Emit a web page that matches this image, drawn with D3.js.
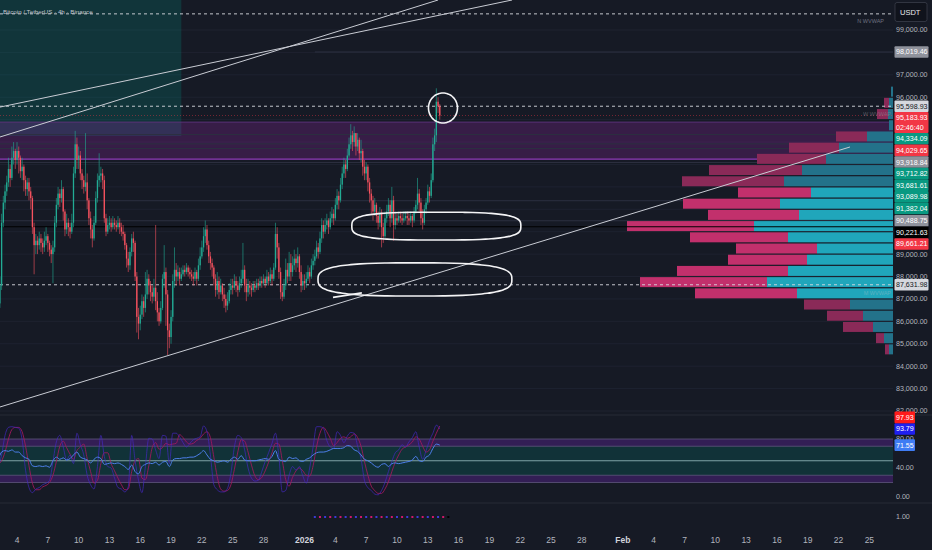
<!DOCTYPE html>
<html><head><meta charset="utf-8">
<script src="https://cdn.jsdelivr.net/npm/d3@7/dist/d3.min.js"></script>
<style>
html,body{margin:0;padding:0;background:#161a25;overflow:hidden;}
svg{display:block;}
</style></head><body>
<svg id="chart" width="932" height="550"></svg>
<script>
// ---------------- DATA ----------------
const candleStart = "2025-12-02T00:00:00Z";   // 4h candles
const firstOpen = 86.3;                        // thousand USDT
const closes = [
86.5,86.8,87.6,90.4,91.3,91.8, 92.2,92.8,92.4,93.3,93.6,93.2, 93.6,93.3,92.7,92.9,92.3,91.9,
92.2,91.8,91.5,90.2,89.4,89.6, 89.4,89.7,89.5,89.3,89.6,89.8, 89.5,89.2,89.0,89.3,90.4,91.2,
91.7,91.5,91.9,90.9,90.1,90.4, 90.2,90.0,90.4,92.6,93.9,93.2, 93.4,92.6,92.3,92.0,92.2,91.4,
90.6,90.1,89.7,90.4,91.5,92.3, 92.5,92.6,92.3,90.6,90.0,90.3, 90.4,90.2,90.4,90.3,90.2,90.4,
90.2,90.0,89.9,89.4,88.8,88.5, 89.1,89.7,89.5,88.0,86.2,85.9, 86.3,86.9,86.6,87.2,87.9,87.6,
87.3,87.1,87.5,86.9,86.4,86.0, 86.6,87.9,88.2,87.2,85.6,85.3, 86.2,87.8,88.3,88.0,88.2,87.9,
88.1,88.3,88.2,88.4,88.2,88.1, 88.0,87.9,88.2,87.9,88.5,88.9, 89.3,89.8,90.1,89.4,88.9,88.6,
88.4,87.9,87.4,87.8,87.3,87.6, 87.2,87.0,86.7,86.9,87.4,87.6, 87.5,87.8,87.6,87.4,87.7,87.9,
88.3,87.6,87.3,87.6,87.5,87.4, 87.6,87.5,87.7,87.6,87.8,87.7, 87.9,87.7,88.0,87.8,88.1,87.9,
88.4,89.9,89.3,88.2,87.3,87.1, 87.6,88.3,88.0,88.6,88.2,88.5, 88.8,88.6,88.9,88.2,87.6,87.8,
87.7,87.9,88.2,88.0,88.5,88.7, 88.9,89.3,89.1,89.7,90.3,90.0, 90.3,90.5,90.2,90.6,90.8,90.6,
91.2,91.6,91.4,92.1,92.6,93.0, 92.8,93.4,93.9,94.3,94.0,94.4, 93.8,94.1,93.5,93.6,92.9,92.6,
92.9,92.2,91.7,91.4,90.9,91.2, 90.7,90.4,90.8,90.2,89.8,90.6, 90.9,91.2,90.6,91.4,90.3,90.6,
90.5,90.7,90.6,90.5,90.6,90.7, 90.6,90.5,90.7,90.5,90.9,91.2, 91.7,91.3,90.6,90.4,91.0,91.3,
91.8,91.6,92.3,93.9,94.3,95.8, 95.6,95.18393];
const highs = [
86.9,87.1,88.0,90.8,91.6,92.1, 92.5,93.3,93.0,93.8,94.0,93.7, 94.0,93.8,93.4,93.3,93.0,92.5,
92.4,92.4,92.0,91.6,90.4,89.9, 89.8,90.0,89.9,89.7,90.0,90.2, 89.9,89.6,89.4,89.6,90.7,91.5,
92.0,91.9,92.3,92.0,91.0,90.8, 90.6,90.4,90.8,92.9,94.5,94.2, 93.8,93.6,92.8,92.5,94.4,92.6,
91.5,90.9,90.3,90.7,91.8,92.6, 93.5,92.9,92.8,92.5,90.8,90.6, 90.7,90.6,90.7,90.6,90.5,90.7,
90.6,90.4,90.3,90.0,89.5,89.1, 89.3,89.9,90.0,89.6,88.2,86.6, 86.7,87.2,87.1,88.2,88.3,88.1,
87.8,87.6,87.9,90.3,87.3,86.6, 86.9,88.1,89.4,88.4,87.4,85.9, 86.5,88.1,89.3,88.6,88.5,88.4,
88.4,88.5,88.5,88.6,88.5,88.4, 88.3,88.2,88.4,88.3,88.8,89.3, 89.6,90.2,90.5,90.3,89.6,89.1,
88.8,88.5,88.1,88.2,88.0,87.9, 87.7,87.5,87.2,87.3,87.7,87.9, 87.9,88.1,88.0,87.8,88.0,88.3,
89.5,88.5,87.9,87.9,87.8,87.7, 87.8,87.8,87.9,87.9,88.0,88.0, 88.1,88.0,88.3,88.2,88.4,88.3,
88.6,90.4,90.2,89.5,88.4,87.6, 87.9,88.8,88.6,89.1,89.0,88.9, 89.2,89.0,89.3,89.0,88.5,88.1,
88.1,88.2,88.5,88.4,88.8,89.0, 89.2,89.6,89.5,90.0,90.6,90.5, 90.6,90.8,90.6,90.9,91.1,91.0,
91.5,91.9,91.8,92.4,92.9,93.3, 93.2,93.7,94.2,94.8,94.5,94.7, 94.4,94.4,94.2,94.1,93.7,93.2,
93.1,93.0,92.4,91.9,91.6,91.5, 91.3,90.9,91.1,91.0,90.4,90.9, 91.2,91.5,91.4,92.0,91.6,90.9,
90.8,90.9,90.9,90.8,90.9,90.9, 90.9,90.8,90.9,90.8,91.1,91.4, 92.4,91.9,91.5,91.0,91.2,91.5,
92.1,92.0,92.6,94.2,94.6,96.4, 96.0,95.7];
const lows = [
86.0,86.3,86.6,87.4,90.2,91.0, 91.6,92.0,92.0,92.3,93.0,92.8, 93.0,92.6,92.4,92.3,91.8,91.6,
91.6,91.4,91.0,89.9,88.1,89.0, 89.0,89.2,89.1,89.0,89.1,89.4, 89.1,88.9,88.6,87.7,89.1,90.2,
91.0,91.1,91.3,90.5,89.8,89.9, 89.8,89.7,89.9,90.2,92.4,92.8, 92.8,92.3,91.9,91.7,91.8,91.0,
90.3,89.7,89.3,89.6,90.3,91.3, 92.0,92.2,91.9,90.4,89.8,89.9, 90.1,90.0,90.1,90.1,90.0,90.1,
89.9,89.8,89.6,89.2,88.4,88.2, 88.3,88.9,89.1,87.8,85.5,85.2, 85.6,86.1,86.2,86.4,87.0,87.2,
86.9,86.8,86.9,86.5,86.0,85.8, 85.9,86.5,87.5,85.8,84.5,84.8, 85.0,86.0,87.5,87.6,87.8,87.6,
87.8,88.0,88.0,88.1,88.0,87.9, 87.8,87.6,87.8,87.6,87.8,88.3, 88.8,89.1,89.5,89.2,88.6,88.3,
88.0,87.6,87.1,87.2,87.0,87.2, 86.9,86.6,86.4,86.5,86.8,87.2, 87.2,87.4,87.3,87.1,87.3,87.5,
87.7,87.3,86.9,87.1,87.2,87.1, 87.3,87.3,87.4,87.4,87.5,87.5, 87.6,87.5,87.6,87.6,87.7,87.6,
87.8,88.3,88.8,87.9,87.0,86.9, 87.0,87.4,87.7,87.8,87.8,88.0, 88.3,88.2,88.4,87.9,87.3,87.4,
87.4,87.5,87.8,87.7,87.9,88.3, 88.5,88.8,88.8,89.0,89.5,89.7, 89.9,90.1,89.9,90.1,90.4,90.3,
90.5,91.0,91.0,91.3,91.9,92.4, 92.4,92.7,93.3,93.7,93.6,93.8, 93.4,93.6,93.2,93.1,92.5,92.3,
92.3,91.8,91.3,90.8,90.5,90.7, 90.4,90.1,90.2,89.3,89.5,89.7, 90.4,90.7,90.2,90.4,89.6,90.1,
90.3,90.4,90.4,90.3,90.4,90.5, 90.3,90.3,90.4,90.2,90.4,90.8, 91.0,90.9,90.3,90.1,90.3,90.8,
91.2,91.3,91.5,92.2,93.6,94.0, 95.3,95.0];

// RSI pane (one value every 8h, on the 2nd candle of each pair)
const rsiValues = [
51,62,64,63,65,62,62,57,54,52, 43,42,43,42,43,41,50,55,52,54, 51,53,58,62,55,53,51,47,52,55,
53,45,46,47,46,47,45,42,38,44, 35,32,42,45,47,46,48,44,48,49, 42,51,53,53,54,54,55,55,57,60,
64,58,52,50,48,49,50,48,52,55, 52,57,51,50,50,50,51,52,53,52, 56,64,52,50,49,55,53,54,50,49,
52,54,58,61,62,62,63,65,67,67, 67,68,71,70,65,63,58,52,50,47, 43,41,45,46,42,46,47,46,47,48,
49,51,56,50,49,55,58,67,73,71.55];
const stochK = [
42,58,85,96,97,96,95,79,37,13, 6,11,13,17,19,23,49,76,85,69, 51,58,46,88,72,58,30,17,11,42,
85,56,42,40,26,13,11,7,14,85, 50,23,6,42,81,80,65,53,85,84, 46,88,88,83,75,69,74,79,81,83,
98,90,58,17,10,7,7,12,33,69, 85,82,65,40,26,22,23,35,49,61, 74,88,56,7,9,30,42,37,42,29,
19,40,69,97,97,95,78,69,67,90, 85,75,84,89,88,70,53,23,13,9, 4,3,9,20,35,49,61,65,72,69,
76,82,90,69,52,64,78,88,99,93.79];
const stochD = [
45,50,62,80,93,96,96,90,70,43, 19,10,10,14,16,20,30,49,70,77, 68,59,52,64,69,73,53,35,19,23,
46,61,61,46,36,26,17,10,11,35, 50,53,26,24,43,68,75,66,68,74, 72,73,74,86,82,76,73,74,78,81,
87,90,82,55,28,11,8,9,17,38, 62,79,77,62,44,29,24,27,36,48, 61,74,73,50,24,15,27,36,40,36,
30,29,43,69,88,96,90,81,71,75, 81,83,81,83,87,82,70,49,30,15, 9,5,5,11,21,35,48,58,66,69,
72,76,83,80,70,62,65,77,88,97.93];
const rsiBands = [80, 70, 50, 30, 20];

// Volume profile (500 USDT rows)
const vpLow  = [96,95.5,95,94.5,94,93.5,93,92.5,92,91.5,91,90.5,90,89.5,89,88.5,88,87.5,87,86.5,86,85.5,85,84.5];
const vpBuy  = [2,4,5,4,26,54,67,91,109,82,113,94,139,105,76,86,105,126,96,43,30,20,9,4];
const vpSell = [0,5,11,0,31,50,69,93,102,73,97,91,127,98,81,79,111,127,102,46,36,30,8,4];
const valueArea = [87, 92];

// Zones, levels, drawings
const tealZone   = {t0:"2025-11-20T00:00:00Z", t1:"2025-12-20T00:00:00Z", p0:94.27, p1:101};
const purpleZone = {t0:"2025-11-20T00:00:00Z", t1:"2026-03-15T00:00:00Z", p0:93.24, p1:94.89};
const dashedLevels = [99.72, 95.59893, 87.63198];
const blackLevel = 90.22163;
const faintLevels = [98.01946, 94.33409, 93.91884, 93.71282, 93.08998, 91.38204, 90.48875];
const lastPrice = 95.18393;
const trendLines = [
  [["2025-12-02T08:00:00Z", 94.225], ["2026-01-14T00:00:00Z", 100.339]],
  [["2025-12-02T08:00:00Z", 95.56],  ["2026-01-21T05:00:00Z", 100.339]],
  [["2025-12-02T08:00:00Z", 82.178], ["2026-02-23T02:40:00Z", 93.78]]
];
const annoCenter = [["2026-01-14T11:30:00Z", 95.52], ["2026-01-13T20:00:00Z", 90.25], ["2026-01-11T18:00:00Z", 87.87]];
const annoHalfDays = [1.41, 8.23, 9.44];
const annoHalfPrice = [0.67, 0.62, 0.74];
const annoShape = [2, 3.2, 3];
const annoTail = [["2026-01-03T18:30:00Z", 87.07], ["2026-01-06T14:00:00Z", 87.27]];

// Axis labels / tags
const priceTicks = d3.range(82, 100, 1);
const rsiTicks = [0, 40, 80];
const timeTicks = ["2025-12-04","2025-12-07","2025-12-10","2025-12-13","2025-12-16","2025-12-19","2025-12-22",
  "2025-12-25","2025-12-28","2026-01-01","2026-01-04","2026-01-07","2026-01-10","2026-01-13","2026-01-16",
  "2026-01-19","2026-01-22","2026-01-25","2026-01-28","2026-02-01","2026-02-04","2026-02-07","2026-02-10",
  "2026-02-13","2026-02-16","2026-02-19","2026-02-22","2026-02-25"];
const tagPrices = [98019.46,95598.93,95183.93,94334.09,94029.65,93918.84,93712.82,93681.61,93089.98,91382.04,90488.75,90221.63,89661.21,87631.98];
const tagKinds  = ["grey","light","last","green","red","grey","green","green","green","green","grey","black","red","light"];
const countdown = "02:46:40";
const rsiTagValues = [97.93, 93.79, 71.55];
const rsiTagKinds = ["d","k","rsi"];
const signalStart = "2026-01-02T00:00:00Z";
const signalDots = [1,-1,1,-1,1,-1,1,-1,1,-1,1,-1,1,-1,1,-1,1,-1,1,-1,1,-1,1,-1,1,-1,0];

// ---------------- DRAW ----------------
const svg = d3.select("#chart");
const AX = 893;               // right axis start
const FONT = "'Liberation Sans',Arial,Roboto,sans-serif";
const BG = "#161a25";
const H4 = 4*3600*1000;

const x = d3.scaleUtc()
  .domain([new Date("2025-12-01T00:00:00Z"), new Date("2026-02-01T00:00:00Z")])
  .range([-13.8, 622.9]);
const y = d3.scaleLinear().domain([82, 99]).range([411, 30]);
const yR = d3.scaleLinear().domain([0, 80]).range([497, 439]);
const vpW = d3.scaleLinear().domain([0, 100]).range([0, 100]);

svg.append("rect").attr("width", 932).attr("height", 550).attr("fill", BG);

const defs = svg.append("defs");
defs.append("clipPath").attr("id","cp").append("rect").attr("x",0).attr("y",0).attr("width",AX).attr("height",414);
defs.append("clipPath").attr("id","cr").append("rect").attr("x",0).attr("y",416).attr("width",AX).attr("height",86);

const pane = svg.append("g").attr("clip-path","url(#cp)");

// grid
pane.selectAll("line.grid").data(priceTicks).join("line")
  .attr("x1",0).attr("x2",AX).attr("y1",d=>y(d)).attr("y2",d=>y(d))
  .attr("stroke","#1e2230").attr("stroke-width",1);

// zones
const t = s => new Date(s);
pane.append("rect")
  .attr("x", x(t(tealZone.t0))).attr("width", x(t(tealZone.t1)) - x(t(tealZone.t0)))
  .attr("y", y(tealZone.p1)).attr("height", y(tealZone.p0) - y(tealZone.p1))
  .attr("fill","rgba(0,150,136,0.22)");
pane.append("rect")
  .attr("x", x(t(purpleZone.t0))).attr("width", x(t(purpleZone.t1)) - x(t(purpleZone.t0)))
  .attr("y", y(purpleZone.p1)).attr("height", y(purpleZone.p0) - y(purpleZone.p1))
  .attr("fill","rgba(156,39,176,0.25)");
pane.append("line").attr("x1",0).attr("x2",AX).attr("y1",y(purpleZone.p0)).attr("y2",y(purpleZone.p0))
  .attr("stroke","#8e3bb8").attr("stroke-width",1.2);
pane.append("line").attr("x1",0).attr("x2",AX).attr("y1",y(purpleZone.p1)).attr("y2",y(purpleZone.p1))
  .attr("stroke","#5a3278").attr("stroke-width",1);

// faint levels
pane.selectAll("line.faint").data(faintLevels).join("line")
  .attr("x1",(d,i)=> i===0 ? x(t("2026-01-02T00:00:00Z")) : 0).attr("x2",AX)
  .attr("y1",d=>y(d)).attr("y2",d=>y(d))
  .attr("stroke","#2c3040").attr("stroke-width",1);

// volume profile
const vp = pane.append("g");
vpLow.forEach((lo,i)=>{
  const yTop = y(lo + 0.5), yBot = y(lo);
  const inVA = lo >= valueArea[0] && lo < valueArea[1];
  const hgt = yBot - yTop - 1.2;
  vp.append("rect").attr("x", AX - vpW(vpBuy[i] + vpSell[i])).attr("width", vpW(vpSell[i]))
    .attr("y", yTop + 0.6).attr("height", hgt).attr("fill", inVA ? "#c2306c" : "#8a2a58");
  vp.append("rect").attr("x", AX - vpW(vpBuy[i])).attr("width", vpW(vpBuy[i]))
    .attr("y", yTop + 0.6).attr("height", hgt).attr("fill", inVA ? "#20a6bb" : "#23728a");
});

// dashed + black levels
pane.selectAll("line.dash").data(dashedLevels).join("line")
  .attr("x1",0).attr("x2",AX).attr("y1",d=>y(d)).attr("y2",d=>y(d))
  .attr("stroke","#d8dae0").attr("stroke-width",0.9).attr("stroke-dasharray","3,3");
pane.append("line").attr("x1",0).attr("x2",AX).attr("y1",y(blackLevel)).attr("y2",y(blackLevel))
  .attr("stroke","#000").attr("stroke-width",1.2);
pane.append("line").attr("x1",0).attr("x2",AX).attr("y1",y(lastPrice)).attr("y2",y(lastPrice))
  .attr("stroke","#f23645").attr("stroke-opacity",0.55).attr("stroke-width",0.8).attr("stroke-dasharray","1,2");

// candles
const c0 = new Date(candleStart).getTime();
const candles = closes.map((c,i)=>({
  t: new Date(c0 + i*H4), o: i===0 ? firstOpen : closes[i-1], c, h: highs[i], l: lows[i]
}));
const cg = pane.append("g");
cg.selectAll("line").data(candles).join("line")
  .attr("x1",d=>x(d.t)).attr("x2",d=>x(d.t)).attr("y1",d=>y(d.h)).attr("y2",d=>y(d.l))
  .attr("stroke",d=>d.c>=d.o ? "#22ab94" : "#f7525f").attr("stroke-width",0.6);
cg.selectAll("rect").data(candles).join("rect")
  .attr("x",d=>x(d.t)-0.65).attr("width",1.3)
  .attr("y",d=>y(Math.max(d.o,d.c))).attr("height",d=>Math.max(0.6, Math.abs(y(d.o)-y(d.c))))
  .attr("fill",d=>d.c>=d.o ? "#22ab94" : "#f7525f");

// trend lines
pane.selectAll("line.trend").data(trendLines).join("line")
  .attr("x1",d=>x(t(d[0][0]))).attr("y1",d=>y(d[0][1]))
  .attr("x2",d=>x(t(d[1][0]))).attr("y2",d=>y(d[1][1]))
  .attr("stroke","#c9ccd4").attr("stroke-width",1);

// freehand annotations
const DAY = 86400000;
const line = d3.line().curve(d3.curveCardinalClosed);
annoCenter.forEach((c,i)=>{
  const ct = new Date(c[0]).getTime();
  const n = annoShape[i];
  const pts = d3.range(0, 72).map(k=>{
    const a = k/72*2*Math.PI;
    const ca = Math.cos(a), sa = Math.sin(a);
    const ex = Math.sign(ca)*Math.pow(Math.abs(ca), 2/n);
    const ey = Math.sign(sa)*Math.pow(Math.abs(sa), 2/n);
    return [x(new Date(ct + ex*annoHalfDays[i]*DAY)), y(c[1] + ey*annoHalfPrice[i])];
  });
  pane.append("path").attr("d", line(pts)).attr("fill","none")
    .attr("stroke","#f4f4f6").attr("stroke-width",1.6);
});
pane.append("path")
  .attr("d", d3.line().curve(d3.curveBasis)(annoTail.map(p=>[x(t(p[0])), y(p[1])])))
  .attr("fill","none").attr("stroke","#f4f4f6").attr("stroke-width",1.6);

// texts in pane
svg.append("text").attr("x",3).attr("y",14).text("Bitcoin / TetherUS · 4h · Binance")
  .attr("font-family",FONT).attr("font-size",6.2).attr("fill","#c3c6ce");
svg.append("text").attr("x",884).attr("y",23).attr("text-anchor","end").text("N WVWAP")
  .attr("font-family",FONT).attr("font-size",5.5).attr("fill","#6d7180");
svg.append("text").attr("x",891).attr("y",116).attr("text-anchor","end").text("W WVWAP")
  .attr("font-family",FONT).attr("font-size",5.5).attr("fill","#8a8d98").attr("opacity",0.55);
svg.append("text").attr("x",891).attr("y",295).attr("text-anchor","end").text("M WVWAP")
  .attr("font-family",FONT).attr("font-size",5.5).attr("fill","#c4c6cc").attr("opacity",0.35);

// ---------- RSI pane ----------
const rp = svg.append("g").attr("clip-path","url(#cr)");
rp.append("rect").attr("x",0).attr("width",AX).attr("y",yR(80)).attr("height",yR(70)-yR(80)).attr("fill","rgba(120,40,200,0.3)");
rp.append("rect").attr("x",0).attr("width",AX).attr("y",yR(30)).attr("height",yR(20)-yR(30)).attr("fill","rgba(120,40,200,0.3)");
rp.append("rect").attr("x",0).attr("width",AX).attr("y",yR(70)).attr("height",yR(30)-yR(70)).attr("fill","rgba(0,150,136,0.2)");
rp.selectAll("line.band").data(rsiBands).join("line")
  .attr("x1",0).attr("x2",AX).attr("y1",d=>yR(d)).attr("y2",d=>yR(d))
  .attr("stroke",d=> d===50 ? "#7fa3a6" : "#5e557c").attr("stroke-width",d=> d===50 ? 1 : 0.8);
const rsiT = i => new Date(c0 + (1 + 2*i)*H4);
const rline = d3.line().x((d,i)=>x(rsiT(i))).y(d=>yR(d)).curve(d3.curveMonotoneX);
rp.append("path").attr("d", rline(stochD)).attr("fill","none").attr("stroke","#a3175e").attr("stroke-width",1).attr("stroke-opacity",0.85);
rp.append("path").attr("d", rline(stochK)).attr("fill","none").attr("stroke","#4528c4").attr("stroke-width",0.9).attr("stroke-opacity",0.75);
rp.append("path").attr("d", rline(rsiValues)).attr("fill","none").attr("stroke","#4d7fea").attr("stroke-width",1);

// separators
[415, 503].forEach(v=>{
  svg.append("line").attr("x1",0).attr("x2",932).attr("y1",v).attr("y2",v).attr("stroke","#262a37").attr("stroke-width",1);
});

// signal dots (bottom pane)
const s0 = new Date(signalStart).getTime();
svg.selectAll("rect.sig").data(signalDots).join("rect")
  .attr("x",(d,i)=>x(new Date(s0 + i*12*3600*1000)) - 1).attr("y",516).attr("width",2).attr("height",2)
  .attr("fill",d=> d>0 ? "#3b3bd6" : d<0 ? "#d0186a" : "#000");

// ---------- right axis: compute tag boxes first ----------
const AXF = 7.1;
const fmtP = d3.format(",.2f");
const tagStyle = {
  grey:{bg:"#8f929c",fg:"#ffffff"}, light:{bg:"#d6d8de",fg:"#131722"}, last:{bg:"#f23645",fg:"#ffffff"},
  green:{bg:"#089981",fg:"#ffffff"}, red:{bg:"#f23645",fg:"#ffffff"}, black:{bg:"#000000",fg:"#ffffff"},
  d:{bg:"#ff1a1a",fg:"#ffffff"}, k:{bg:"#1f1ff0",fg:"#ffffff"}, rsi:{bg:"#3f7cf4",fg:"#ffffff"}
};
const TH = 11.6;
let prevBottom = -1e9;
const tags = tagPrices.map((p,i)=>({p, kind:tagKinds[i]})).sort((a,b)=>b.p-a.p);
tags.forEach(tg=>{
  tg.h = tg.kind==="last" ? 21 : TH;
  let top = y(tg.p/1000) - TH/2;
  if (top < prevBottom) top = prevBottom;
  tg.top = top;
  prevBottom = top + tg.h;
});
let prevTop = 1e9;
const rtags = rsiTagValues.map((v,i)=>({v, kind:rsiTagKinds[i], h:TH})).sort((a,b)=>a.v-b.v);
rtags.forEach(tg=>{
  let top = yR(tg.v) - TH/2;
  if (top + TH > prevTop) top = prevTop - TH;
  tg.top = top;
  prevTop = top;
});
// an axis label whose centre sits under a tag is hidden (as in the platform)
const covered = yy => tags.some(tg => yy > tg.top + 1.5 && yy < tg.top + tg.h - 1.5);

const axisTxt = (v, yy) => svg.append("text").attr("x",896).attr("y",yy).attr("dy","0.35em").text(v)
  .attr("font-family",FONT).attr("font-size",AXF).attr("fill","#b2b5be");
priceTicks.filter(p => !covered(y(p))).forEach(p=> axisTxt(fmtP(p*1000), y(p)));
rsiTicks.forEach(v=> axisTxt(d3.format(".2f")(v), yR(v)));
axisTxt("1.00", 517);

tags.forEach(tg=>{
  const st = tagStyle[tg.kind];
  svg.append("rect").attr("x",894.5).attr("y",tg.top).attr("width",34).attr("height",tg.h).attr("rx",1).attr("fill",st.bg);
  svg.append("text").attr("x",896).attr("y",tg.top+TH/2).attr("dy","0.35em").text(fmtP(tg.p))
    .attr("font-family",FONT).attr("font-size",AXF).attr("fill",st.fg);
  if (tg.kind==="last") {
    svg.append("text").attr("x",896).attr("y",tg.top+TH/2+9.6).attr("dy","0.35em").text(countdown)
      .attr("font-family",FONT).attr("font-size",AXF).attr("fill",st.fg);
  }
});
rtags.forEach(tg=>{
  const st = tagStyle[tg.kind];
  svg.append("rect").attr("x",894.5).attr("y",tg.top).attr("width",20.5).attr("height",TH).attr("rx",1).attr("fill",st.bg);
  svg.append("text").attr("x",896).attr("y",tg.top+TH/2).attr("dy","0.35em").text(d3.format(".2f")(tg.v))
    .attr("font-family",FONT).attr("font-size",AXF).attr("fill",st.fg);
});

// USDT box
svg.append("rect").attr("x",895).attr("y",2.5).attr("width",32).attr("height",19).attr("rx",2)
  .attr("fill","#10131c").attr("stroke","#3a3e4a").attr("stroke-width",0.8);
svg.append("text").attr("x",900).attr("y",12).attr("dy","0.35em").text("USDT")
  .attr("font-family",FONT).attr("font-size",7.5).attr("fill","#e8e9ec");

// ---------- time axis ----------
const fmtDay = d3.utcFormat("%-d");
timeTicks.forEach(s=>{
  const d = new Date(s + "T00:00:00Z");
  const m = d.getUTCMonth(), dd = d.getUTCDate();
  let lab = fmtDay(d), bold = false;
  if (dd === 1 && m === 0) { lab = d3.utcFormat("%Y")(d); bold = true; }
  else if (dd === 1) { lab = d3.utcFormat("%b")(d); bold = true; }
  svg.append("text").attr("x", x(d)).attr("y", 540).attr("dy","0.35em").attr("text-anchor","middle")
    .text(lab).attr("font-family",FONT).attr("font-size",8.5)
    .attr("font-weight", bold ? 700 : 400).attr("fill", bold ? "#d1d4dc" : "#b2b5be");
});
</script>
</body></html>
